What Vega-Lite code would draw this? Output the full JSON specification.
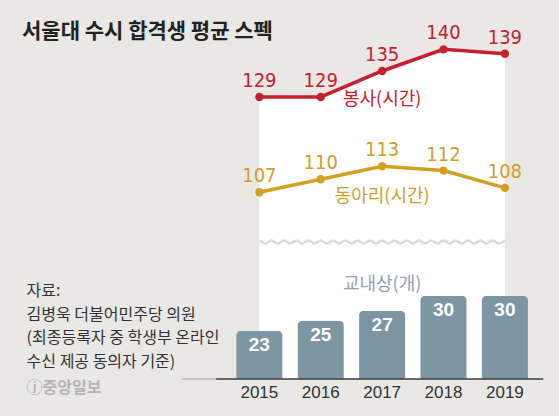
{
  "$schema": "https://vega.github.io/schema/vega-lite/v6.json",
  "width": 559,
  "height": 329,
  "autosize": "none",
  "padding": {"top": 50, "left": 0, "right": 0, "bottom": 37},
  "background": "#e9e8e5",
  "title": {"text": "서울대 수시 합격생 평균 스펙", "anchor": "start", "frame": "group", "dx": 22, "offset": -19, "font": "Noto Sans CJK KR", "fontSize": 21, "fontWeight": "bold", "color": "#222222"},
  "config": {"view": {"stroke": null}},
  "datasets": {
    "spec": [
      {"year": 2015, "bongsa": 129, "club": 107, "award": 23},
      {"year": 2016, "bongsa": 129, "club": 110, "award": 25},
      {"year": 2017, "bongsa": 135, "club": 113, "award": 27},
      {"year": 2018, "bongsa": 140, "club": 112, "award": 30},
      {"year": 2019, "bongsa": 139, "club": 108, "award": 30}
    ],
    "wave": [
      {"wx": 2015.0, "wy": 95.85}, {"wx": 2015.1, "wy": 95.17}, {"wx": 2015.2, "wy": 95.85}, {"wx": 2015.3, "wy": 95.17}, {"wx": 2015.4, "wy": 95.85},
      {"wx": 2015.5, "wy": 95.17}, {"wx": 2015.6, "wy": 95.85}, {"wx": 2015.7, "wy": 95.17}, {"wx": 2015.8, "wy": 95.85}, {"wx": 2015.9, "wy": 95.17},
      {"wx": 2016.0, "wy": 95.85}, {"wx": 2016.1, "wy": 95.17}, {"wx": 2016.2, "wy": 95.85}, {"wx": 2016.3, "wy": 95.17}, {"wx": 2016.4, "wy": 95.85},
      {"wx": 2016.5, "wy": 95.17}, {"wx": 2016.6, "wy": 95.85}, {"wx": 2016.7, "wy": 95.17}, {"wx": 2016.8, "wy": 95.85}, {"wx": 2016.9, "wy": 95.17},
      {"wx": 2017.0, "wy": 95.85}, {"wx": 2017.1, "wy": 95.17}, {"wx": 2017.2, "wy": 95.85}, {"wx": 2017.3, "wy": 95.17}, {"wx": 2017.4, "wy": 95.85},
      {"wx": 2017.5, "wy": 95.17}, {"wx": 2017.6, "wy": 95.85}, {"wx": 2017.7, "wy": 95.17}, {"wx": 2017.8, "wy": 95.85}, {"wx": 2017.9, "wy": 95.17},
      {"wx": 2018.0, "wy": 95.85}, {"wx": 2018.1, "wy": 95.17}, {"wx": 2018.2, "wy": 95.85}, {"wx": 2018.3, "wy": 95.17}, {"wx": 2018.4, "wy": 95.85},
      {"wx": 2018.5, "wy": 95.17}, {"wx": 2018.6, "wy": 95.85}, {"wx": 2018.7, "wy": 95.17}, {"wx": 2018.8, "wy": 95.85}, {"wx": 2018.9, "wy": 95.17},
      {"wx": 2019.0, "wy": 95.85}
    ]
  },
  "resolve": {"scale": {"y": "independent"}},
  "layer": [
    {
      "layer": [
        {
          "data": {"name": "spec"},
          "mark": {"type": "area", "color": "#ffffff", "opacity": 1},
          "encoding": {
            "x": {"field": "year", "type": "quantitative", "scale": {"domain": [2010.856, 2019.8], "nice": false, "zero": false}, "axis": null},
            "y": {"field": "bongsa", "type": "quantitative", "scale": {"domain": [63.87, 139.85], "nice": false, "zero": false}, "axis": null},
            "y2": {"datum": 63.87}
          }
        },
        {
          "data": {"name": "wave"},
          "mark": {"type": "line", "color": "#dcdbd8", "strokeWidth": 2.5, "interpolate": "monotone"},
          "encoding": {
            "x": {"field": "wx", "type": "quantitative", "axis": null},
            "y": {"field": "wy", "type": "quantitative", "axis": null}
          }
        },
        {
          "data": {"name": "spec"},
          "mark": {"type": "line", "color": "#c5202e", "strokeWidth": 3.5, "point": {"filled": true, "size": 70, "color": "#c5202e", "opacity": 1}},
          "encoding": {
            "x": {"field": "year", "type": "quantitative", "axis": null},
            "y": {"field": "bongsa", "type": "quantitative", "axis": null}
          }
        },
        {
          "data": {"name": "spec"},
          "mark": {"type": "text", "color": "#c5202e", "font": "'Liberation Sans Narrow', 'DejaVu Sans Condensed', sans-serif", "fontSize": 20, "baseline": "middle", "dy": -16},
          "encoding": {
            "x": {"field": "year", "type": "quantitative", "axis": null},
            "y": {"field": "bongsa", "type": "quantitative", "axis": null},
            "text": {"field": "bongsa", "type": "quantitative"}
          }
        },
        {
          "data": {"name": "spec"},
          "transform": [{"filter": "datum.year === 2017"}],
          "mark": {"type": "text", "color": "#c5202e", "font": "Noto Sans CJK KR", "fontSize": 18, "baseline": "middle", "dy": 29, "text": "봉사(시간)"},
          "encoding": {
            "x": {"field": "year", "type": "quantitative", "axis": null},
            "y": {"field": "bongsa", "type": "quantitative", "axis": null}
          }
        },
        {
          "data": {"name": "spec"},
          "mark": {"type": "line", "color": "#d3a024", "strokeWidth": 3.5, "point": {"filled": true, "size": 70, "color": "#d3a024", "opacity": 1}},
          "encoding": {
            "x": {"field": "year", "type": "quantitative", "axis": null},
            "y": {"field": "club", "type": "quantitative", "axis": null}
          }
        },
        {
          "data": {"name": "spec"},
          "mark": {"type": "text", "color": "#cf9e28", "font": "'Liberation Sans Narrow', 'DejaVu Sans Condensed', sans-serif", "fontSize": 20, "baseline": "middle", "dy": -16},
          "encoding": {
            "x": {"field": "year", "type": "quantitative", "axis": null},
            "y": {"field": "club", "type": "quantitative", "axis": null},
            "text": {"field": "club", "type": "quantitative"}
          }
        },
        {
          "data": {"name": "spec"},
          "transform": [{"filter": "datum.year === 2017"}],
          "mark": {"type": "text", "color": "#cf9e28", "font": "Noto Sans CJK KR", "fontSize": 18, "baseline": "middle", "dy": 31, "text": "동아리(시간)"},
          "encoding": {
            "x": {"field": "year", "type": "quantitative", "axis": null},
            "y": {"field": "club", "type": "quantitative", "axis": null}
          }
        },
        {
          "data": {"values": [{}]},
          "mark": {"type": "text", "color": "#333333", "font": "Noto Sans CJK KR", "fontSize": 16, "align": "left", "baseline": "top", "lineHeight": 23.5, "text": ["자료:", "김병욱 더불어민주당 의원", "(최종등록자 중 학생부 온라인", "수신 제공 동의자 기준)"]},
          "encoding": {
            "x": {"datum": 2011.208, "type": "quantitative", "axis": null},
            "y": {"datum": 86.0, "type": "quantitative", "axis": null}
          }
        },
        {
          "data": {"values": [{}]},
          "mark": {"type": "text", "color": "#b5b4b1", "font": "Noto Sans CJK KR", "fontSize": 16, "fontWeight": "bold", "align": "left", "baseline": "middle", "text": "ⓙ중앙일보"},
          "encoding": {
            "x": {"datum": 2011.208, "type": "quantitative", "axis": null},
            "y": {"datum": 61.9, "type": "quantitative", "axis": null}
          }
        }
      ]
    },
    {
      "layer": [
        {
          "data": {"name": "spec"},
          "mark": {"type": "bar", "color": "#7d96a4", "size": 46, "cornerRadiusTopLeft": 4, "cornerRadiusTopRight": 4},
          "encoding": {
            "x": {"field": "year", "type": "quantitative", "axis": null},
            "y": {"field": "award", "type": "quantitative", "scale": {"domain": [13.4, 79.2], "nice": false, "zero": false}, "axis": null},
            "y2": {"datum": 13.4}
          }
        },
        {
          "data": {"name": "spec"},
          "mark": {"type": "text", "color": "#ffffff", "font": "Liberation Sans", "fontSize": 19, "fontWeight": "bold", "baseline": "middle", "dy": 14},
          "encoding": {
            "x": {"field": "year", "type": "quantitative", "axis": null},
            "y": {"field": "award", "type": "quantitative", "axis": null},
            "text": {"field": "award", "type": "quantitative"}
          }
        },
        {
          "data": {"name": "spec"},
          "transform": [{"filter": "datum.year === 2017"}],
          "mark": {"type": "text", "color": "#8ea3af", "font": "Noto Sans CJK KR", "fontSize": 18, "baseline": "middle", "dy": -26, "text": "교내상(개)"},
          "encoding": {
            "x": {"field": "year", "type": "quantitative", "axis": null},
            "y": {"field": "award", "type": "quantitative", "axis": null}
          }
        },
        {
          "data": {"name": "spec"},
          "mark": {"type": "text", "color": "#333333", "font": "Liberation Sans", "fontSize": 17, "baseline": "middle", "dy": 14},
          "encoding": {
            "x": {"field": "year", "type": "quantitative", "axis": null},
            "y": {"datum": 13.4, "type": "quantitative", "axis": null},
            "text": {"field": "year", "type": "nominal"}
          }
        },
        {
          "data": {"values": [{}]},
          "mark": {"type": "rule", "color": "#b9b8b5", "strokeWidth": 1.5},
          "encoding": {
            "x": {"datum": 2013.736, "type": "quantitative", "axis": null},
            "x2": {"datum": 2014.296},
            "y": {"datum": 13.4, "type": "quantitative", "axis": null}
          }
        },
        {
          "data": {"values": [{}]},
          "mark": {"type": "rule", "color": "#3d3d3d", "strokeWidth": 1.5},
          "encoding": {
            "x": {"datum": 2014.296, "type": "quantitative", "axis": null},
            "x2": {"datum": 2019.624},
            "y": {"datum": 13.4, "type": "quantitative", "axis": null}
          }
        }
      ]
    }
  ]
}
